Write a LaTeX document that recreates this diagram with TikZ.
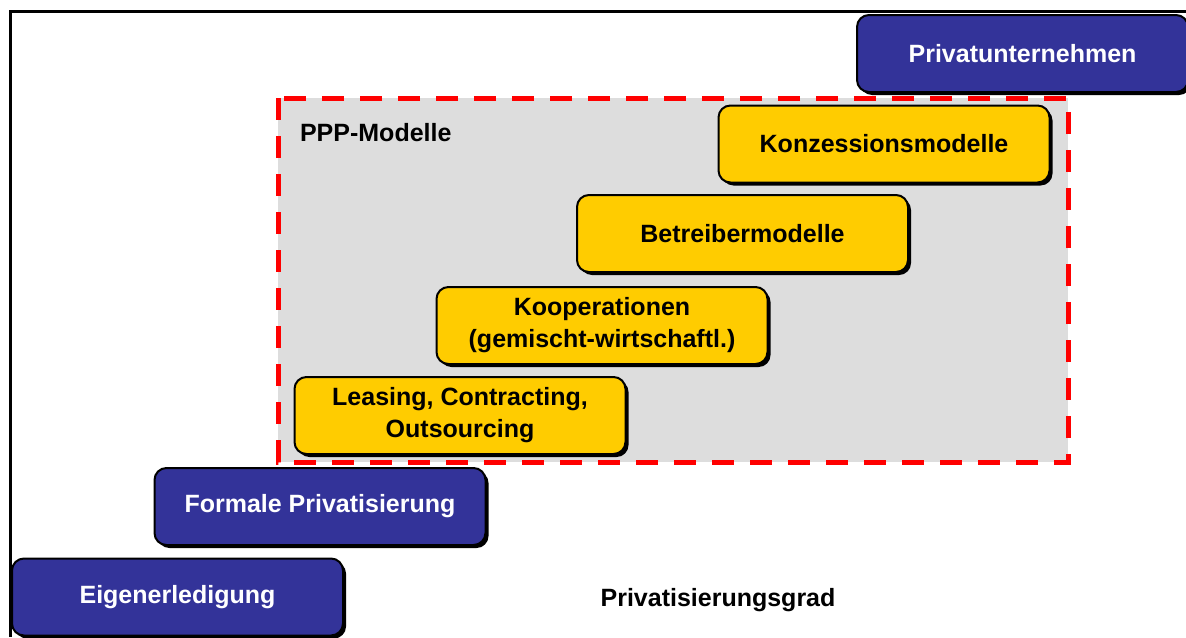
\documentclass[tikz,border=0pt]{standalone}
\usepackage{fontspec}
\setmainfont{Liberation Sans}
\usetikzlibrary{shadows}
\definecolor{pppblue}{HTML}{333399}
\definecolor{pppyellow}{HTML}{FFCC00}
\definecolor{pppgray}{HTML}{DDDDDD}
\tikzset{
  stufe/.style={draw=black, line width=1pt, rounded corners=6pt,
    minimum width=165.5pt, minimum height=38.5pt, align=center,
    font=\fontsize{12.5}{16}\selectfont\bfseries,
    drop shadow={shadow xshift=1.5pt, shadow yshift=-1.5pt, fill=black, opacity=1}},
  bluebox/.style={stufe, fill=pppblue, text=white},
  yellowbox/.style={stufe, fill=pppyellow, text=black},
  label/.style={font=\fontsize{12.5}{16}\selectfont\bfseries}
}
\begin{document}
\begin{tikzpicture}[x=0.5pt,y=-0.5pt]
\useasboundingbox (0,0) rectangle (1186,637);

% frame
\draw[line width=1.5pt] (10,637) -- (10,11) -- (1186,11);

% PPP area
\fill[pppgray] (278,98) rectangle (1068,462);
\draw[red, line width=2.5pt, dash pattern=on 11pt off 8pt] (278,98) rectangle (1068,462);
\node[label, anchor=west] (ppp) at (293,133) {PPP-Modelle};

% steps
\node[bluebox] (eigen) at (177.5,597) {Eigenerledigung};
\node[bluebox] (formal) at (320,506.5) {Formale Privatisierung};
\node[yellowbox] (leasing) at (460,415.5) {Leasing, Contracting,\\Outsourcing};
\node[yellowbox] (koop) at (602,325.5) {Kooperationen\\(gemischt-wirtschaftl.)};
\node[yellowbox] (betreiber) at (742.5,233.5) {Betreibermodelle};
\node[yellowbox] (konz) at (884,144) {Konzessionsmodelle};
\node[bluebox] (privat) at (1022.5,53.5) {Privatunternehmen};

\node[label] (grad) at (718,600) {Privatisierungsgrad};
\end{tikzpicture}
\end{document}
